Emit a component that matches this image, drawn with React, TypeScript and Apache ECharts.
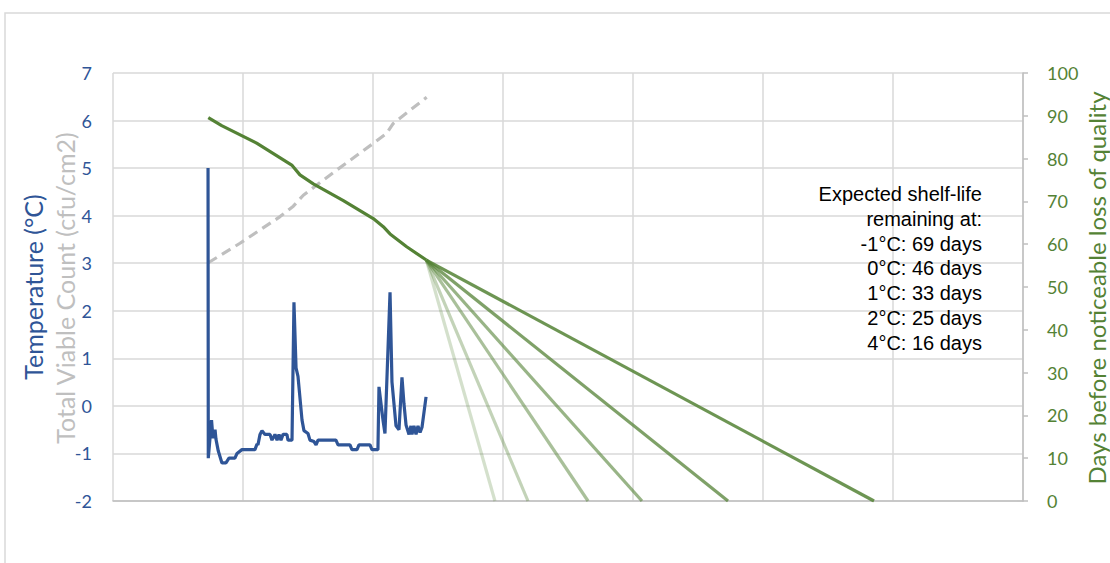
import React, { useEffect, useRef } from "react";
import * as echarts from "echarts";

// x in days (hidden axis), left axis: temperature / log TVC, right axis: days remaining
const temperature: [number, number][] = [
  [7.31, 5.0], [7.33, -1.1], [7.58, -0.3], [7.69, -0.68], [7.85, -0.5], [7.92, -0.7],
  [8.1, -0.95], [8.38, -1.2], [8.69, -1.2], [8.92, -1.1], [9.38, -1.1], [9.54, -1.0],
  [9.92, -0.92], [10.92, -0.92], [11.08, -0.8], [11.15, -0.82], [11.31, -0.6], [11.46, -0.52],
  [11.69, -0.6], [12.08, -0.6], [12.23, -0.72], [12.46, -0.6], [12.62, -0.72], [12.77, -0.6],
  [12.92, -0.72], [13.08, -0.6], [13.38, -0.6], [13.46, -0.72], [13.77, -0.72], [13.92, 2.18],
  [14.08, 0.8], [14.23, 0.62], [14.54, -0.3], [14.69, -0.52], [15.0, -0.58], [15.15, -0.72],
  [15.46, -0.75], [15.62, -0.82], [15.77, -0.72], [17.15, -0.72], [17.31, -0.82], [18.23, -0.82],
  [18.38, -0.92], [18.77, -0.92], [18.92, -0.82], [19.77, -0.82], [19.92, -0.92], [20.38, -0.92],
  [20.46, 0.4], [20.77, -0.3], [20.92, -0.58], [21.31, 2.39], [21.46, 0.5], [21.77, -0.42],
  [22.0, -0.5], [22.23, 0.6], [22.38, 0.05], [22.54, -0.4], [22.77, -0.6], [22.92, -0.42],
  [23.0, -0.6], [23.15, -0.42], [23.31, -0.6], [23.46, -0.42], [23.62, -0.56], [23.77, -0.45],
  [24.08, 0.19],
];

const tvc: [number, number][] = [
  [7.33, 3.01], [9.77, 3.42], [12.85, 3.98], [13.87, 4.2], [14.64, 4.43], [17.21, 4.96],
  [20.02, 5.52], [21.05, 5.73], [21.56, 5.94], [24.13, 6.49],
];

const shelfLife: [number, number][] = [
  [7.33, 89.6], [8.36, 87.7], [11.05, 83.6], [13.75, 78.5], [14.38, 76.2], [15.41, 74.1],
  [17.72, 70.2], [20.02, 66.0], [20.79, 64.1], [21.31, 62.4], [22.59, 59.4], [24.1, 56.3],
];

const projectionStart: [number, number] = [24.1, 56.3];
const projectionEnds: number[] = [29.38, 31.92, 36.54, 40.69, 47.31, 58.54];
const projectionAlpha: number[] = [0.25, 0.35, 0.5, 0.6, 0.75, 0.85];

const infoLines: string[] = [
  "Expected shelf-life",
  "remaining at:",
  "-1°C: 69 days",
  "0°C: 46 days",
  "1°C: 33 days",
  "2°C: 25 days",
  "4°C: 16 days",
];

const leftTicks = { min: -2, max: 7, interval: 1 };
const rightTicks = { min: 0, max: 100, interval: 10 };

export default function App() {
  const ref = useRef<HTMLDivElement>(null);
  useEffect(() => {
    const chart = echarts.init(ref.current!, null, { renderer: "svg" });
    const projSeries = projectionEnds.map((end, i) => ({
      type: "line",
      yAxisIndex: 1,
      data: [projectionStart, [end, 0]],
      symbol: "none",
      lineStyle: { color: `rgba(84,130,53,${projectionAlpha[i]})`, width: 3.2 },
      z: 2,
    }));
    chart.setOption({
      animation: false,
      grid: { left: 113, right: 87, top: 73, bottom: 62 },
      xAxis: {
        type: "value",
        min: 0,
        max: 70,
        interval: 10,
        axisLabel: { show: false },
        axisTick: { show: false },
        axisLine: { show: true, onZero: false, lineStyle: { color: "#BFBFBF", width: 1.5 } },
        splitLine: { show: true, lineStyle: { color: "#D9D9D9", width: 1.5 } },
      },
      yAxis: [
        {
          type: "value",
          ...leftTicks,
          axisLine: { show: false },
          axisTick: { show: false },
          axisLabel: { color: "#2F5597", fontSize: 18, fontFamily: "Lato", margin: 21 },
          splitLine: { show: true, lineStyle: { color: "#D9D9D9", width: 1.5 } },
        },
        {
          type: "value",
          ...rightTicks,
          position: "right",
          axisLine: { show: true, lineStyle: { color: "#BFBFBF", width: 1.5 } },
          axisTick: { show: true, inside: false, length: 5, lineStyle: { color: "#BFBFBF", width: 1.5 } },
          axisLabel: { color: "#548235", fontSize: 18, fontFamily: "Lato", margin: 24 },
          splitLine: { show: false },
        },
      ],
      graphic: [
        {
          type: "rect",
          shape: { x: 5, y: 13, width: 1300, height: 700 },
          style: { fill: "none", stroke: "#D9D9D9", lineWidth: 1.5 },
          silent: true,
          z: -10,
        },
        {
          type: "text",
          x: 33,
          y: 287,
          rotation: Math.PI / 2,
          style: {
            text: "Temperature (°C)",
            fill: "#2F5597",
            font: "25px Lato",
            align: "center",
            verticalAlign: "middle",
          },
        },
        {
          type: "text",
          x: 65,
          y: 288,
          rotation: Math.PI / 2,
          style: {
            text: "Total Viable Count (cfu/cm2)",
            fill: "#BFBFBF",
            font: "25px Lato",
            align: "center",
            verticalAlign: "middle",
          },
        },
        {
          type: "text",
          x: 1096,
          y: 288,
          rotation: Math.PI / 2,
          style: {
            text: "Days before noticeable loss of quality",
            fill: "#548235",
            font: "24px Lato",
            align: "center",
            verticalAlign: "middle",
          },
        },
        {
          type: "text",
          x: 982,
          y: 182,
          style: {
            text: infoLines.join("\n"),
            fill: "#000000",
            font: "20px 'Liberation Sans'",
            align: "right",
            verticalAlign: "top",
            lineHeight: 24.7,
          },
          z: 10,
        },
      ],
      series: [
        ...projSeries,
        {
          type: "line",
          yAxisIndex: 0,
          data: tvc,
          symbol: "none",
          lineStyle: { color: "#BFBFBF", width: 3.2, type: [10, 6] },
          z: 3,
        },
        {
          type: "line",
          yAxisIndex: 1,
          data: shelfLife,
          symbol: "none",
          lineStyle: { color: "#548235", width: 3.2 },
          z: 4,
        },
        {
          type: "line",
          yAxisIndex: 0,
          data: temperature,
          symbol: "none",
          lineStyle: { color: "#2F5597", width: 3.2 },
          z: 5,
        },
      ],
    });
    return () => chart.dispose();
  }, []);
  return (
    <div
      ref={ref}
      style={{ position: "fixed", left: 0, top: 0, width: 1110, height: 563, background: "#fff" }}
    />
  );
}
